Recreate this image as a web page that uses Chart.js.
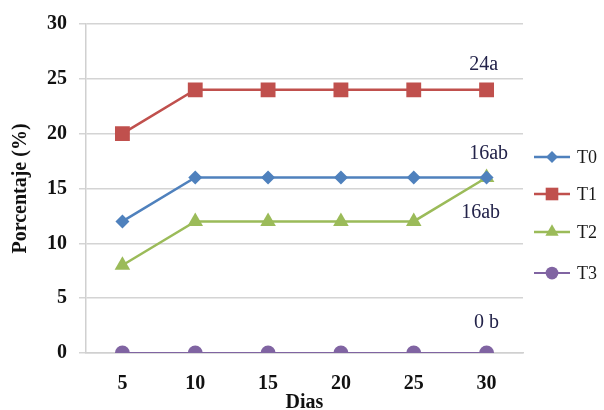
<!DOCTYPE html>
<html>
<head>
<meta charset="utf-8">
<script src="https://cdn.jsdelivr.net/npm/chart.js@4/dist/chart.umd.min.js"></script>
<style>
  html, body { margin: 0; padding: 0; background: #fff; }
  #wrap { width: 604px; height: 410px; position: relative; }
</style>
</head>
<body>
<div id="wrap"><canvas id="c" width="604" height="410"></canvas></div>
<script>
// Days of observation
const dias = ['5', '10', '15', '20', '25', '30'];

// Percentage per treatment
const t0 = [12, 16, 16, 16, 16, 16];
const t1 = [20, 24, 24, 24, 24, 24];
const t2 = [8, 12, 12, 12, 12, 16];
const t3 = [0, 0, 0, 0, 0, 0];

const seriesNames = ['T0', 'T1', 'T2', 'T3'];
const seriesColors = ['#4F81BD', '#C0504D', '#9BBB59', '#8064A2'];
const seriesMarkers = ['rectRot', 'rect', 'triangle', 'circle'];
const markerRadius = [7, 10.5, 9, 7.5];

// Significance letters shown beside the final value of each series
const groupLetters = ['ab', 'a', 'ab', ' b'];
// Offsets (px) of each end label from its point
const labelOffsets = [[2, -24], [-3, -25], [-6, 35], [0, -30]];

const seriesData = [t0, t1, t2, t3];

const SERIF = "'Liberation Serif', 'Times New Roman', serif";

function drawMarker(ctx, style, x, y, r, color) {
  ctx.save();
  ctx.fillStyle = color;
  ctx.beginPath();
  if (style === 'rectRot') {
    ctx.moveTo(x, y - r); ctx.lineTo(x + r, y); ctx.lineTo(x, y + r); ctx.lineTo(x - r, y);
    ctx.closePath();
  } else if (style === 'rect') {
    const s = r * Math.SQRT1_2;
    ctx.rect(x - s, y - s, 2 * s, 2 * s);
  } else if (style === 'triangle') {
    ctx.moveTo(x, y - r);
    ctx.lineTo(x + r * Math.sin(Math.PI / 3), y + r * 0.5);
    ctx.lineTo(x - r * Math.sin(Math.PI / 3), y + r * 0.5);
    ctx.closePath();
  } else {
    ctx.arc(x, y, r, 0, Math.PI * 2);
  }
  ctx.fill();
  ctx.restore();
}

const sideLegend = {
  id: 'sideLegend',
  afterDraw(chart) {
    const ctx = chart.ctx;
    const x0 = 534, x1 = 570, tx = 577;
    const ys = [157, 194, 232, 273];
    ctx.save();
    ctx.font = "18px " + SERIF;
    ctx.textBaseline = 'middle';
    ctx.textAlign = 'left';
    seriesNames.forEach((name, i) => {
      const y = ys[i];
      ctx.strokeStyle = seriesColors[i];
      ctx.lineWidth = i === 3 ? 2 : 2.5;
      ctx.beginPath(); ctx.moveTo(x0, y); ctx.lineTo(x1, y); ctx.stroke();
      drawMarker(ctx, seriesMarkers[i], (x0 + x1) / 2, y, markerRadius[i] * 0.85, seriesColors[i]);
      ctx.fillStyle = '#1a1a1a';
      ctx.fillText(name, tx, y + 1);
    });
    ctx.restore();
  }
};

const endLabels = {
  id: 'endLabels',
  afterDatasetsDraw(chart) {
    const ctx = chart.ctx;
    const xs = chart.scales.x, ys = chart.scales.y;
    ctx.save();
    ctx.font = "20px " + SERIF;
    ctx.fillStyle = '#23234a';
    ctx.textAlign = 'center';
    ctx.textBaseline = 'middle';
    seriesData.forEach((arr, i) => {
      const last = arr.length - 1;
      const v = arr[last];
      const px = xs.getPixelForValue(last) + labelOffsets[i][0];
      const py = ys.getPixelForValue(v) + labelOffsets[i][1];
      ctx.fillText(String(v) + groupLetters[i], px, py);
    });
    ctx.restore();
  }
};

new Chart(document.getElementById('c'), {
  type: 'line',
  data: {
    labels: dias,
    datasets: seriesNames.map((name, i) => ({
      label: name,
      data: seriesData[i],
      borderColor: seriesColors[i],
      backgroundColor: seriesColors[i],
      borderWidth: i === 3 ? 2 : 2.5,
      pointStyle: seriesMarkers[i],
      pointRadius: markerRadius[i],
      pointHoverRadius: markerRadius[i],
      pointBorderWidth: 0,
      tension: 0,
      fill: false
    }))
  },
  options: {
    responsive: false,
    animation: false,
    events: [],
    layout: { padding: { top: 24, right: 81, bottom: 0, left: 0 } },
    plugins: { legend: { display: false }, tooltip: { enabled: false } },
    scales: {
      x: {
        offset: true,
        grid: { display: false, drawTicks: false },
        border: { display: true, color: '#d0d0d0', width: 1.5 },
        ticks: { color: '#111', font: { family: SERIF, size: 20, weight: 'bold' }, padding: 19, maxRotation: 0 },
        title: { display: true, text: 'Dias', color: '#111', font: { family: SERIF, size: 20, weight: 'bold', lineHeight: 0.7 }, padding: 0 },
        afterFit(scale) { scale.height = 57; }
      },
      y: {
        min: 0, max: 30,
        ticks: { stepSize: 5, color: '#111', font: { family: SERIF, size: 20, weight: 'bold' }, padding: 12 },
        grid: { color: '#d4d4d4', lineWidth: 1.5, tickLength: 7, drawTicks: true },
        border: { display: true, color: '#d0d0d0', width: 1.5 },
        title: { display: true, text: 'Porcentaje (%)', color: '#111', font: { family: SERIF, size: 20, weight: 'bold', lineHeight: 1 }, padding: 11 },
        afterFit(scale) { scale.width = 86; }
      }
    }
  },
  plugins: [endLabels, sideLegend]
});
</script>
</body>
</html>
